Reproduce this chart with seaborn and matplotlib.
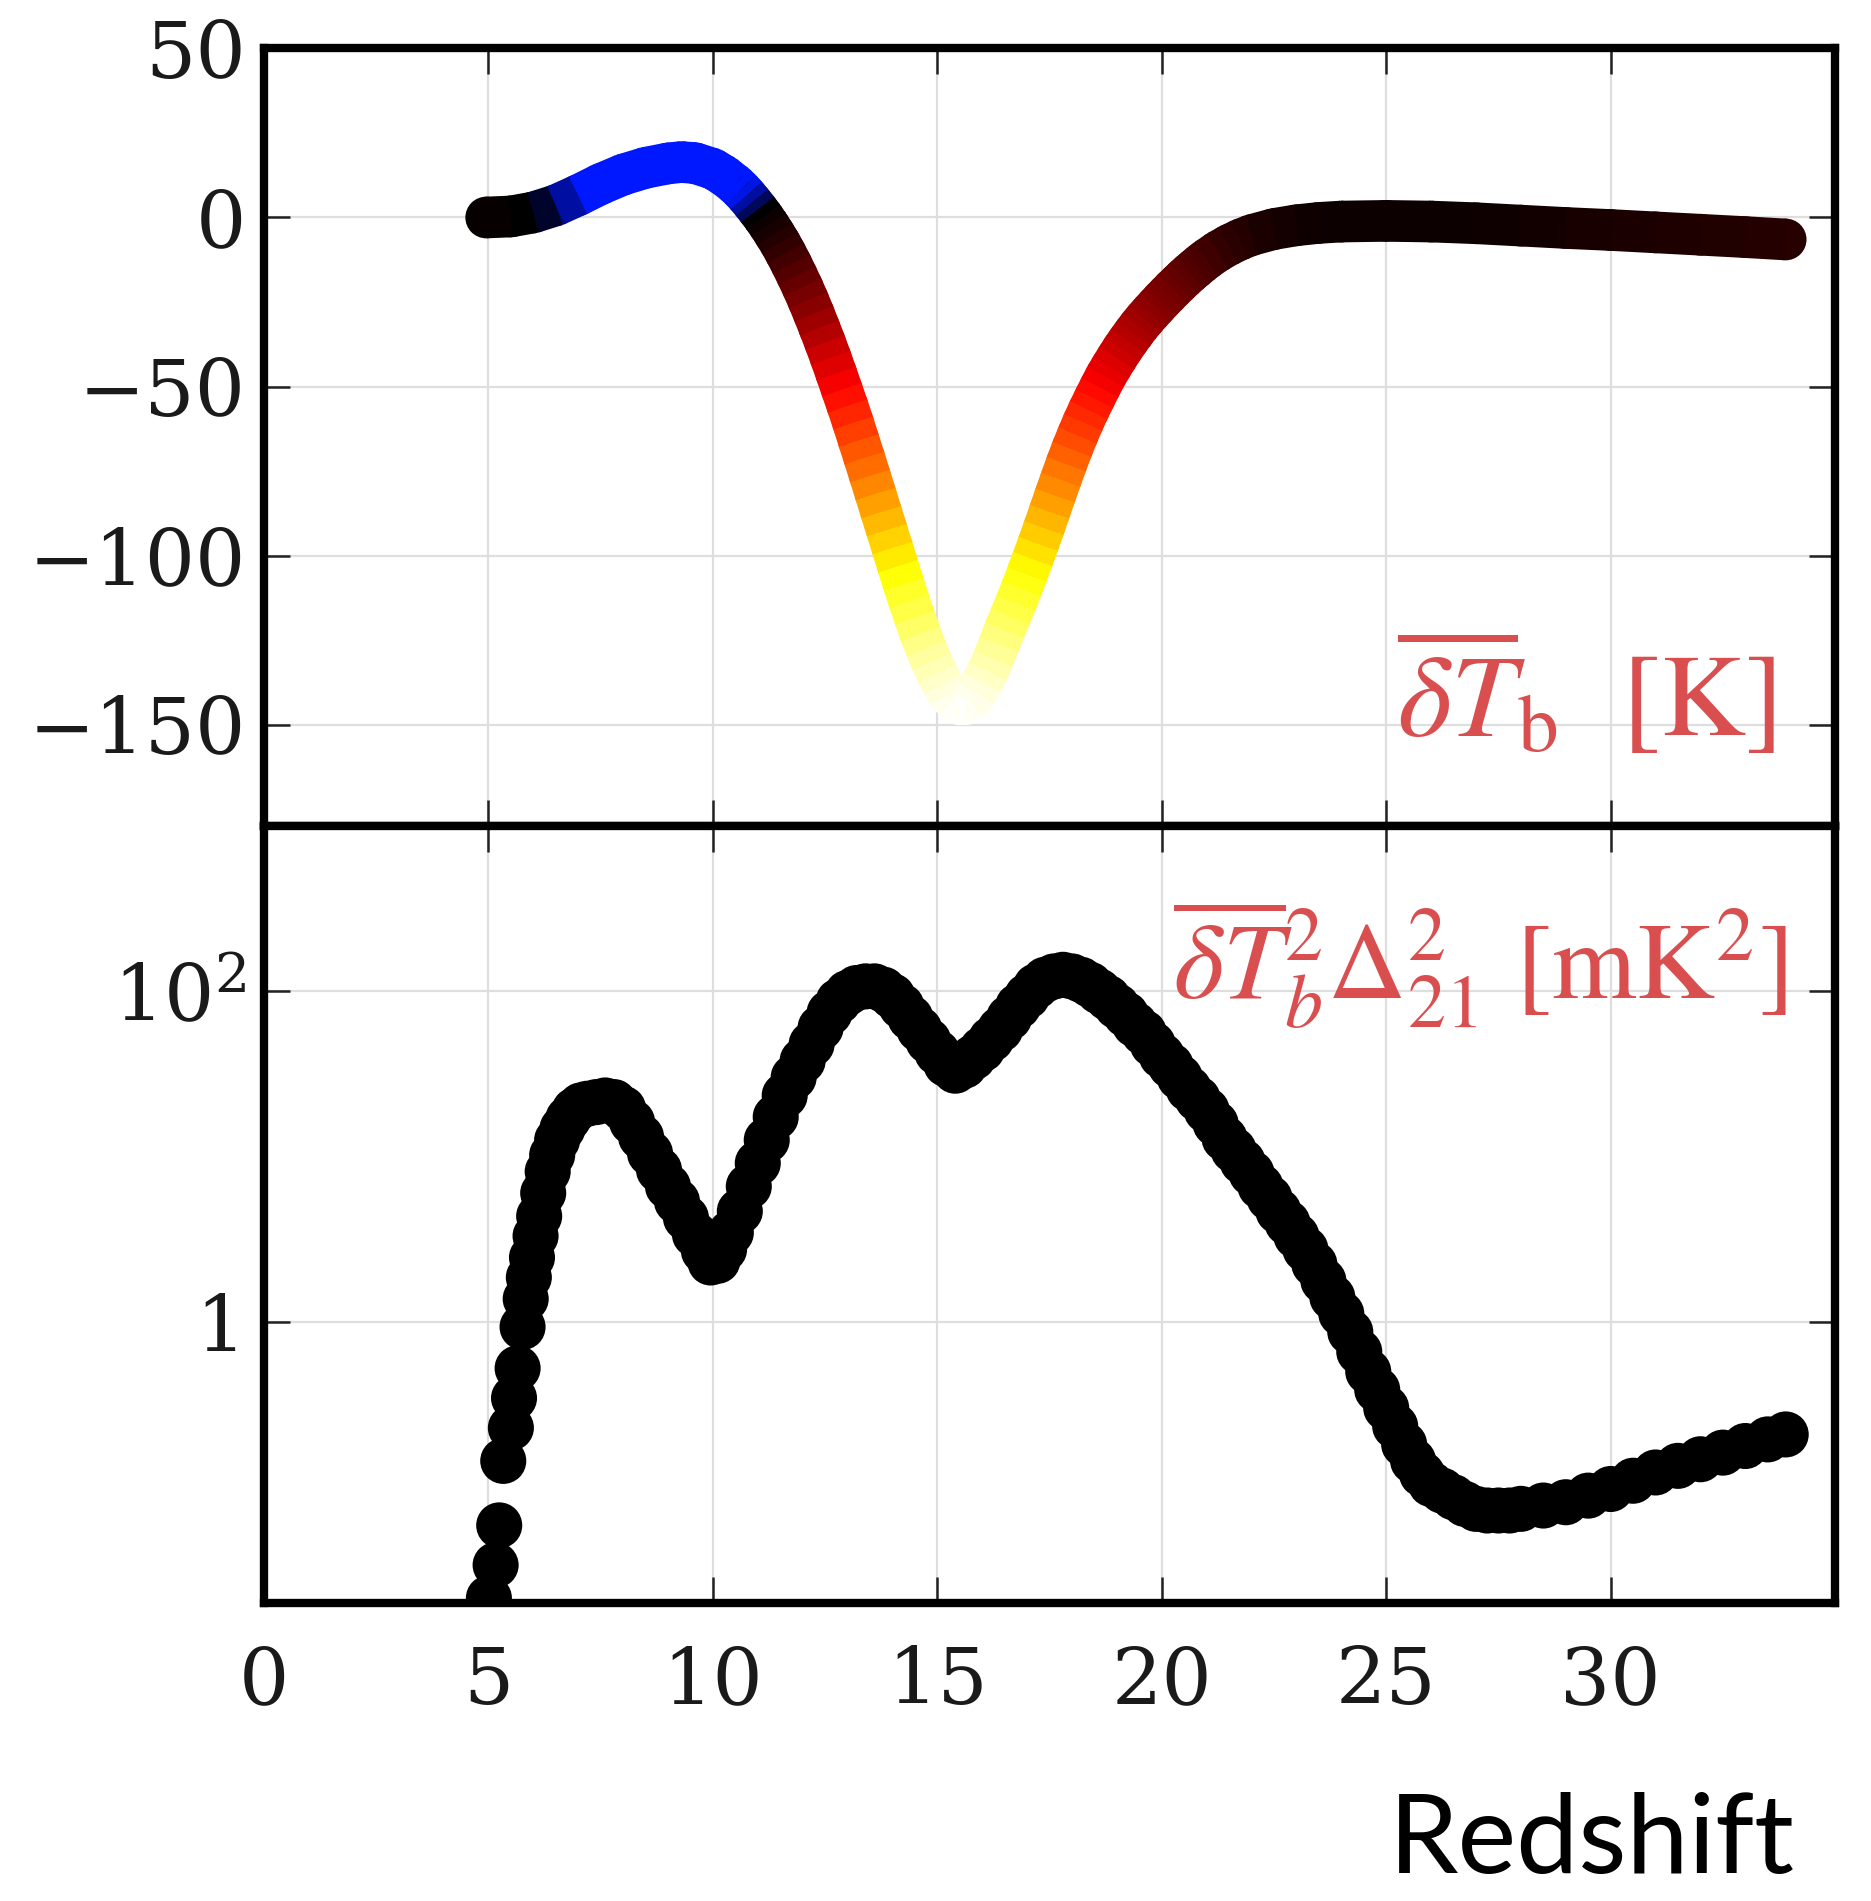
import numpy as np
import pandas as pd
import matplotlib
matplotlib.use("Agg")
import matplotlib.pyplot as plt
import seaborn as sns
from matplotlib.collections import LineCollection
from matplotlib.colors import LinearSegmentedColormap, Normalize

# =========================
# dados
# =========================
# painel de cima: temperatura de brilho media [K] vs redshift
tb_z = [4.95, 5.5, 6.0, 6.5, 7.0, 7.5, 8.0, 8.5, 9.0, 9.3, 9.6, 10.0, 10.25,
        10.5, 10.625, 10.75, 10.875, 11.0, 11.125, 11.25, 11.375, 11.5, 11.625,
        11.75, 11.875, 12.0, 12.125, 12.25, 12.375, 12.5, 12.625, 12.75, 12.875,
        13.0, 13.125, 13.25, 13.375, 13.5, 13.625, 13.75, 13.875, 14.0, 14.125,
        14.25, 14.375, 14.5, 14.625, 14.75, 14.875, 15.0, 15.125, 15.25, 15.375,
        15.5, 15.625, 15.75, 15.875, 16.0, 16.125, 16.25, 16.375, 16.5, 16.625,
        16.75, 16.875, 17.0, 17.125, 17.25, 17.375, 17.5, 17.625, 17.75, 17.875,
        18.0, 18.125, 18.25, 18.375, 18.5, 18.625, 18.75, 18.875, 19.0, 19.125,
        19.25, 19.375, 19.5, 19.625, 19.75, 19.875, 20.0, 20.125, 20.25, 20.375,
        20.5, 20.625, 20.75, 20.875, 21.0, 21.25, 21.5, 21.75, 22.0, 22.5, 23.0,
        23.5, 24.0, 25.0, 26.0, 27.0, 28.0, 29.0, 30.0, 31.0, 32.0, 33.0, 33.9]
tb_val = [0.0, 0.3, 1.5, 3.6, 6.6, 9.9, 12.7, 14.7, 16.0, 16.4, 16.1, 14.4, 12.4,
          9.8, 8.2, 6.4, 4.4, 2.3, 0.1, -2.3, -4.9, -7.6, -10.6,
          -13.8, -17.2, -20.7, -24.5, -28.5, -32.7, -37.0, -41.5, -46.2, -51.0,
          -55.8, -60.8, -66.0, -71.2, -76.5, -81.8, -87.2, -92.5, -97.8, -103.2,
          -108.5, -113.6, -118.5, -123.2, -127.5, -131.5, -135.0, -138.2, -141.0, -142.9,
          -144.0, -144.0, -143.0, -140.6, -137.5, -134.2, -130.5, -126.3, -122.0, -118.0,
          -114.0, -109.8, -105.5, -101.0, -96.5, -91.8, -87.0, -82.2, -77.5, -72.9,
          -68.5, -64.4, -60.5, -56.9, -53.5, -50.2, -47.0, -44.2, -41.5, -38.9,
          -36.5, -34.2, -32.0, -30.0, -28.1, -26.3, -24.5, -22.8, -21.1, -19.5,
          -17.9, -16.4, -15.0, -13.6, -12.3, -10.0, -8.1, -6.5, -5.2, -3.4, -2.3,
          -1.6, -1.2, -1.0, -1.2, -1.7, -2.4, -3.1, -3.7, -4.4, -5.1, -5.8, -6.5]

# painel de baixo: espectro de potencia [mK^2] (log10) vs redshift
pk_z = [5.01, 5.16, 5.24, 5.33, 5.50, 5.57, 5.65, 5.76, 5.83, 5.90, 5.97, 6.05, 6.13,
        6.22, 6.32, 6.42, 6.53, 6.65, 6.78, 6.92, 7.06, 7.2, 7.4, 7.6, 7.8, 8.0, 8.2,
        8.4, 8.6, 8.8, 9.0, 9.2, 9.4, 9.6, 9.8, 9.95, 10.1, 10.25, 10.4, 10.6, 10.8,
        11.0, 11.2, 11.4, 11.6, 11.8, 12.0, 12.2, 12.4, 12.6, 12.8, 13.0, 13.2, 13.4,
        13.6, 13.8, 14.0, 14.2, 14.4, 14.6, 14.8, 15.0, 15.2, 15.4, 15.6, 15.8, 16.0,
        16.2, 16.4, 16.6, 16.8, 17.0, 17.2, 17.4, 17.6, 17.8, 18.0, 18.2, 18.4, 18.6,
        18.8, 19.0, 19.2, 19.4, 19.6, 19.8, 20.0, 20.2, 20.4, 20.6, 20.8, 21.0, 21.2,
        21.4, 21.6, 21.8, 22.0, 22.2, 22.4, 22.6, 22.8, 23.0, 23.2, 23.4, 23.6, 23.8,
        24.0, 24.2, 24.4, 24.6, 24.8, 25.0, 25.2, 25.4, 25.6, 25.8, 26.0, 26.25, 26.5,
        26.75, 27.0, 27.25, 27.5, 27.75, 28.0, 28.5, 29.0, 29.5, 30.0, 30.5, 31.0,
        31.5, 32.0, 32.5, 33.0, 33.5, 33.9]
pk_log10 = [-1.67, -1.47, -1.23, -0.84, -0.64, -0.46, -0.28, -0.03, 0.14, 0.27, 0.39, 0.52, 0.64,
            0.78, 0.91, 1.01, 1.10, 1.17, 1.23, 1.28, 1.31, 1.32, 1.33, 1.34, 1.33, 1.29, 1.21,
            1.12, 1.02, 0.92, 0.82, 0.73, 0.63, 0.53, 0.43, 0.36, 0.37, 0.44, 0.54, 0.67, 0.82,
            0.96, 1.10, 1.24, 1.37, 1.48, 1.58, 1.68, 1.78, 1.87, 1.94, 1.99, 2.02, 2.03,
            2.03, 2.01, 1.97, 1.91, 1.84, 1.77, 1.70, 1.63, 1.56, 1.52, 1.55, 1.60, 1.65,
            1.71, 1.77, 1.84, 1.91, 1.97, 2.03, 2.07, 2.09, 2.10, 2.09, 2.07, 2.04, 2.00,
            1.96, 1.91, 1.86, 1.80, 1.75, 1.68, 1.61, 1.55, 1.48, 1.41, 1.35, 1.28, 1.20,
            1.11, 1.04, 0.97, 0.90, 0.82, 0.75, 0.67, 0.60, 0.52, 0.44, 0.35, 0.25, 0.15,
            0.05, -0.06, -0.18, -0.30, -0.41, -0.52, -0.63, -0.74, -0.84, -0.92, -0.98, -1.02, -1.06,
            -1.10, -1.13, -1.14, -1.14, -1.14, -1.13, -1.11, -1.09, -1.05, -1.01, -0.96, -0.91,
            -0.87, -0.83, -0.79, -0.75, -0.71, -0.68]

x_ticks = [0, 5, 10, 15, 20, 25, 30]
tb_ticks = [50, 0, -50, -100, -150]
pk_ticks = [1, 100]
pk_tick_labels = ["1", "$10^2$"]

VERMELHO = "#d94f50"
LARGURA = 30  # espessura da faixa (pt)

# =========================
# estilo
# =========================
sns.set_style("ticks")
plt.rcParams.update({
    "font.family": ["DejaVu Serif"],
    "mathtext.fontset": "dejavuserif",
    "axes.linewidth": 6,
    "axes.edgecolor": "black",
    "axes.axisbelow": True,
    "xtick.direction": "in",
    "ytick.direction": "in",
})

fig = plt.figure(figsize=(18.71, 19.01), dpi=100)
ax_top = fig.add_axes([0.1411, 0.5655, 0.8397, 0.4090])
ax_bot = fig.add_axes([0.1411, 0.1568, 0.8397, 0.4087], sharex=ax_top)

# --------------------
# painel de cima: faixa colorida pelo proprio valor
# --------------------
norm = Normalize(vmin=-145, vmax=8)
span = 153.0
cores = [(0.0, "#ffffff"), (40 / span, "#ffff00"), (95 / span, "#ff0000"),
         (146.5 / span, "#000000"), (1.0, "#0018ff")]
cmap_tb = LinearSegmentedColormap.from_list("tb", cores)

df_tb = pd.DataFrame({"z": tb_z, "tb": tb_val})
# vertices (preenchem as juncoes)
sns.scatterplot(data=df_tb, x="z", y="tb", hue="tb", palette=cmap_tb, hue_norm=norm,
                s=LARGURA ** 2, edgecolor="none", linewidth=0, legend=False,
                ax=ax_top, zorder=3)
# segmentos
pts = df_tb[["z", "tb"]].to_numpy()
segs = np.stack([pts[:-1], pts[1:]], axis=1)
meio = 0.5 * (pts[:-1, 1] + pts[1:, 1])
lc = LineCollection(segs, cmap=cmap_tb, norm=norm, linewidths=LARGURA,
                    capstyle="butt", zorder=4)
lc.set_array(meio)
ax_top.add_collection(lc)

ax_top.set_xlim(0, 35)
ax_top.set_ylim(-180, 50)
ax_top.set_yticks(tb_ticks)
ax_top.set_xticks(x_ticks)
ax_top.set_xlabel("")
ax_top.set_ylabel("")

# --------------------
# painel de baixo: pontos pretos
# --------------------
df_pk = pd.DataFrame({"z": pk_z, "pk": np.power(10.0, pk_log10)})
ax_bot.set_yscale("log")
sns.scatterplot(data=df_pk, x="z", y="pk", ax=ax_bot, s=1100, color="black",
                edgecolor="none", linewidth=0, zorder=3, legend=False)
ax_bot.set_ylim(0.02, 1000)
ax_bot.set_yticks(pk_ticks)
ax_bot.set_yticklabels(pk_tick_labels)
ax_bot.yaxis.set_minor_locator(matplotlib.ticker.NullLocator())
ax_bot.set_xlabel("")
ax_bot.set_ylabel("")

for ax in (ax_top, ax_bot):
    ax.grid(True, color="#dedede", linewidth=1.6)
    ax.tick_params(axis="both", which="major", direction="in", top=True, right=True,
                   length=19, width=1.8, color="#222222", labelsize=57,
                   labelcolor="#1a1a1a")
    ax.tick_params(axis="x", pad=30)
    ax.tick_params(axis="y", pad=13)
    for sp in ax.spines.values():
        sp.set_linewidth(6)
        sp.set_color("black")
ax_top.tick_params(axis="x", labelbottom=False)

# --------------------
# textos
# --------------------
ax_top.text(0.962, 0.083, r"$\overline{\delta T}_{\rm b}$  [K]", transform=ax_top.transAxes,
            ha="right", va="bottom", fontsize=84, color=VERMELHO,
            family="STIXGeneral", math_fontfamily="stix")
ax_bot.text(0.969, 0.736, r"$\overline{\delta T}_b^2\Delta_{21}^2$ [mK$^2$]",
            transform=ax_bot.transAxes, ha="right", va="bottom", fontsize=78,
            color=VERMELHO, family="STIXGeneral", math_fontfamily="stix")

fig.text(0.959, 0.0147, "Redshift", ha="right", va="baseline", fontsize=80,
         family="Lato", color="black")

fig.savefig("out.png", dpi=100, facecolor="white")
